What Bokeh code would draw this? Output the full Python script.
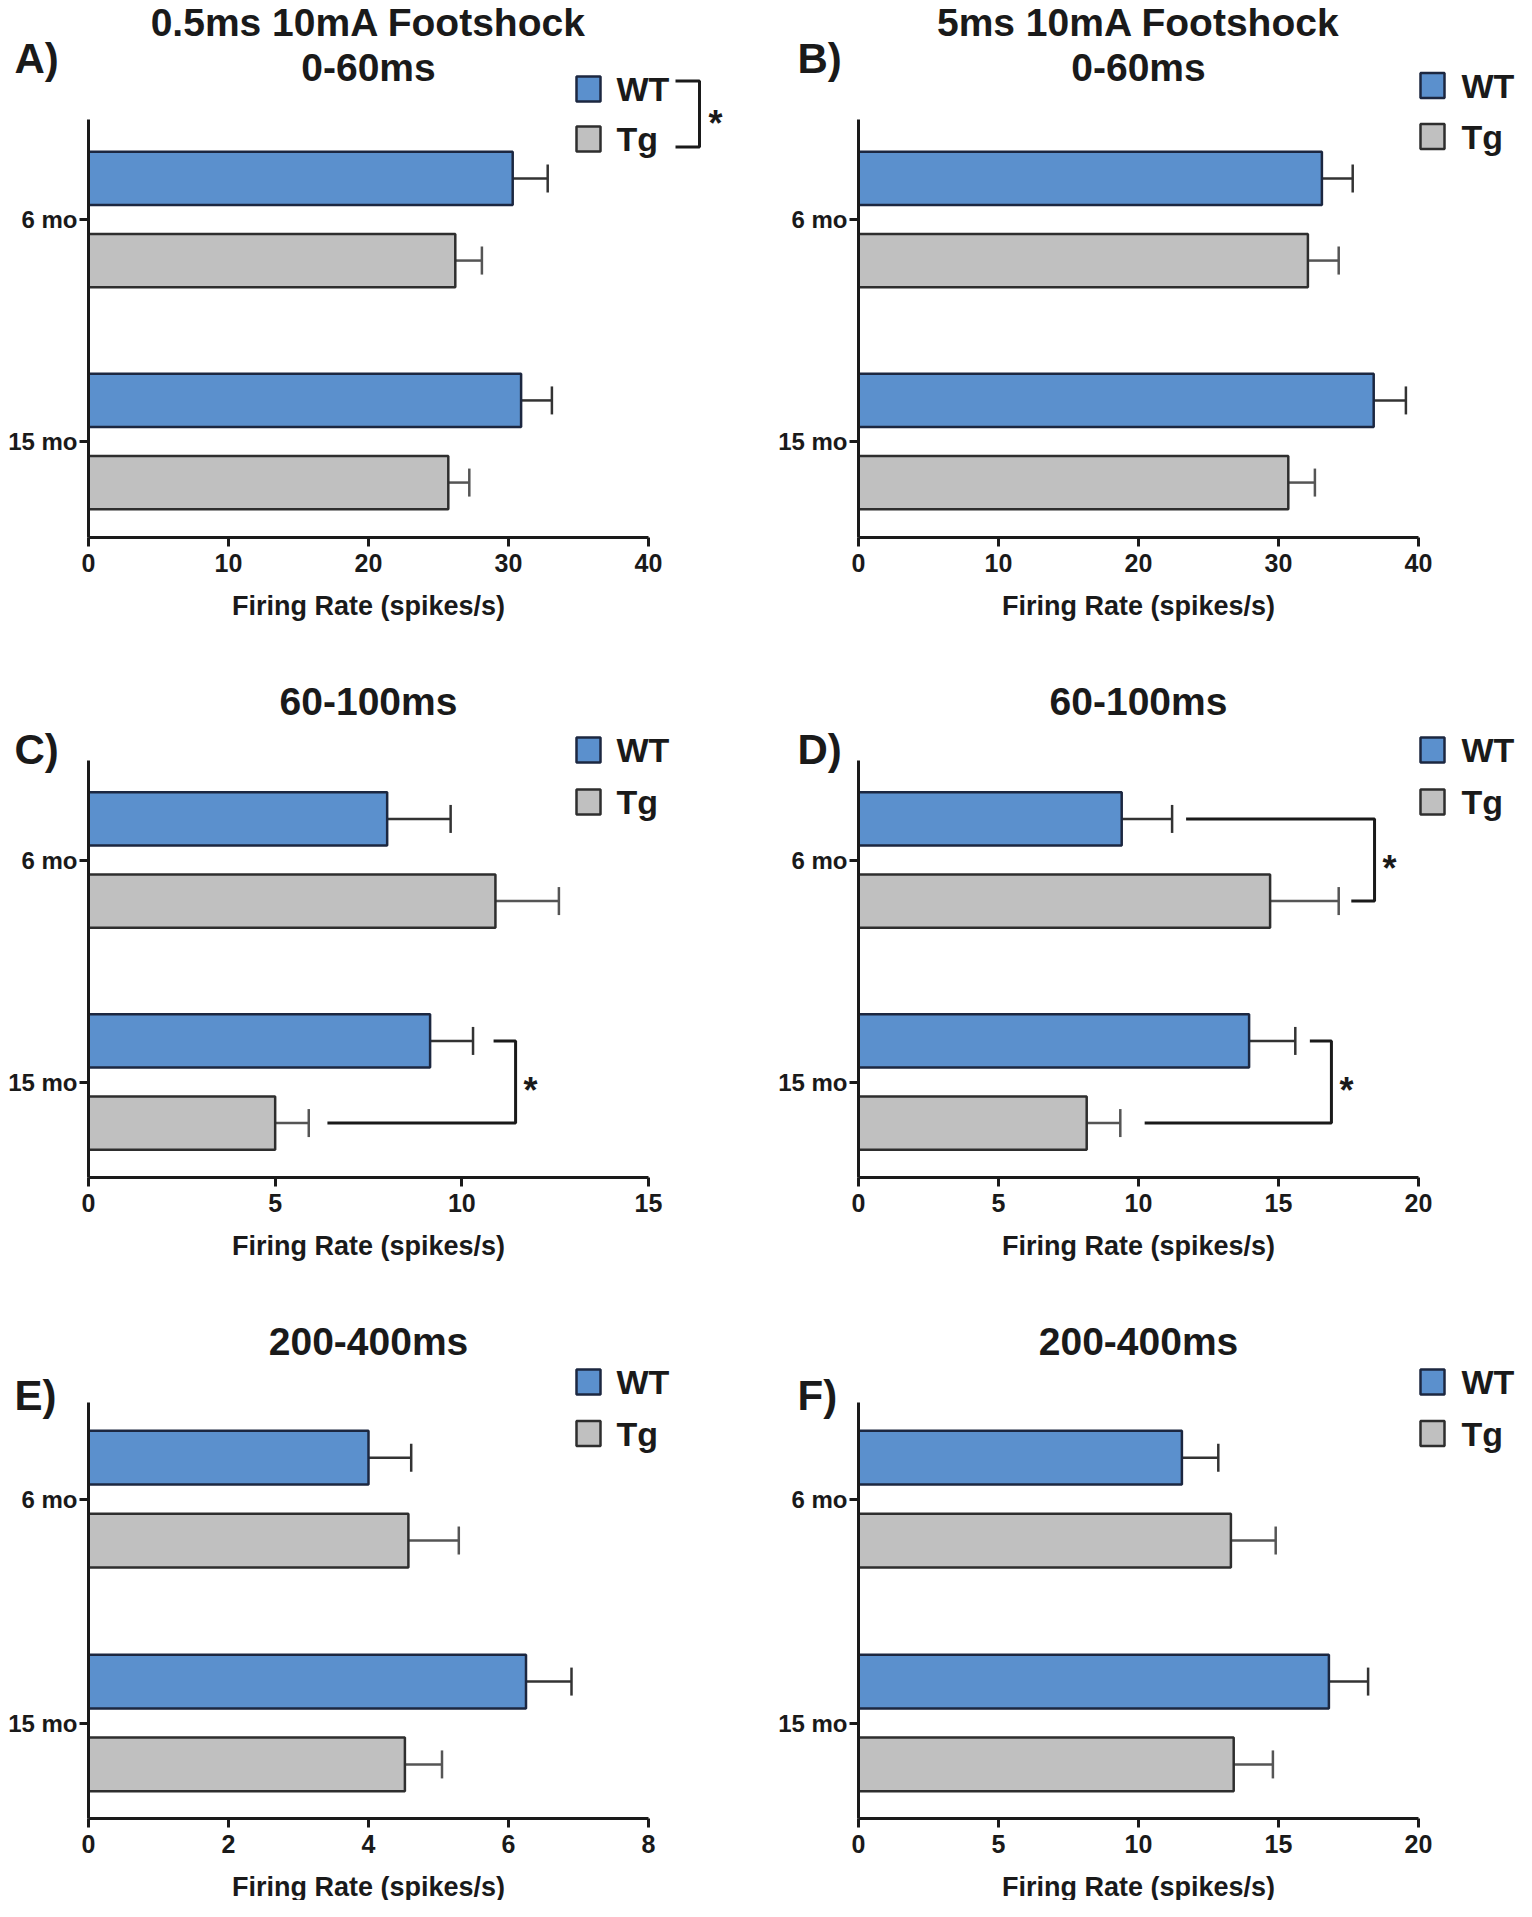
from bokeh.plotting import figure
from bokeh.models import Range1d, FixedTicker, Label, Whisker, TeeHead, ColumnDataSource
from bokeh.layouts import column, row
from bokeh.embed import file_html
from bokeh.resources import INLINE

# ---------------- data ----------------
groups = ["6 mo", "15 mo"]
series = ["WT", "Tg"]

a_wt = [30.3, 30.9]
a_wt_sem = [2.5, 2.2]
a_tg = [26.2, 25.7]
a_tg_sem = [1.9, 1.5]

b_wt = [33.1, 36.8]
b_wt_sem = [2.2, 2.3]
b_tg = [32.1, 30.7]
b_tg_sem = [2.2, 1.9]

c_wt = [8.0, 9.15]
c_wt_sem = [1.7, 1.15]
c_tg = [10.9, 5.0]
c_tg_sem = [1.7, 0.9]

d_wt = [9.4, 13.95]
d_wt_sem = [1.8, 1.65]
d_tg = [14.7, 8.15]
d_tg_sem = [2.45, 1.2]

e_wt = [4.0, 6.25]
e_wt_sem = [0.61, 0.65]
e_tg = [4.57, 4.52]
e_tg_sem = [0.72, 0.53]

f_wt = [11.55, 16.8]
f_wt_sem = [1.3, 1.4]
f_tg = [13.3, 13.4]
f_tg_sem = [1.6, 1.4]

ticks_40 = [0, 10, 20, 30, 40]
ticks_15 = [0, 5, 10, 15]
ticks_20 = [0, 5, 10, 15, 20]
ticks_8 = [0, 2, 4, 6, 8]

# significance brackets: (x start top, x vertical, x start bottom, group index)
c_brackets = [(10.85, 11.44, 6.4, 2)]
d_brackets = [(11.7, 18.43, 17.6, 1), (16.12, 16.89, 10.22, 2)]

# ---------------- style ----------------
FONT = "Liberation Sans"
DARK = "#1a1a1a"
BLUE = "#5b90cd"
BLUE_EDGE = "#1c2740"
GRAY = "#c0c0c0"
GRAY_EDGE = "#2e2e2e"
ERR_WT = "#333333"
ERR_TG = "#555555"
AXIS_PX = 560
OFF = 0.185
BAR_H = 0.24

ROWS = [
    dict(top=8, h=632, fb=545, t6=227, t15=449, axis_top=127),
    dict(top=640, h=640, fb=1185, t6=867.5, t15=1089.5, axis_top=768),
    dict(top=1280, h=628, fb=1826, t6=1506.6, t15=1730.5, axis_top=1409.5),
]
COLS = [
    dict(left=8, w=762, fl=96, letter_x=22, box_x=596, text_x=624),
    dict(left=770, w=754, fl=866, letter_x=805, box_x=1440, text_x=1469),
]


def make_panel(r, c, letter, titles, wt, wt_sem, tg, tg_sem, xmax, xticks,
               legend_y, brackets=(), legend_bracket=False):
    R = ROWS[r]
    C = COLS[c]
    fl = C["fl"]
    fb = R["fb"]
    ppu = AXIS_PX / xmax
    gs = R["t15"] - R["t6"]

    def X(px):
        return (px - fl) / ppu

    def Y(py):
        return 1 + (py - R["t6"]) / gs

    p = figure(width=C["w"], height=R["h"],
               x_range=Range1d(X(C["left"]), X(C["left"] + C["w"])),
               y_range=Range1d(Y(R["top"] + R["h"]), Y(R["top"])),
               min_border=0, min_border_left=0, min_border_right=0,
               min_border_top=0, min_border_bottom=0,
               output_backend="svg", toolbar_location=None, tools="")
    p.outline_line_color = None
    p.xgrid.visible = False
    p.ygrid.visible = False
    p.background_fill_color = "white"
    p.border_fill_color = "white"

    y_wt = [i + 1 - OFF for i in range(len(groups))]
    y_tg = [i + 1 + OFF for i in range(len(groups))]

    p.hbar(y=y_wt, left=0, right=wt, height=BAR_H, fill_color=BLUE,
           line_color=BLUE_EDGE, line_width=2.5)
    p.hbar(y=y_tg, left=0, right=tg, height=BAR_H, fill_color=GRAY,
           line_color=GRAY_EDGE, line_width=2.5)

    for ys, vals, sems, col in ((y_wt, wt, wt_sem, ERR_WT), (y_tg, tg, tg_sem, ERR_TG)):
        src = ColumnDataSource(dict(base=ys, lower=vals,
                                    upper=[v + s for v, s in zip(vals, sems)]))
        w = Whisker(source=src, base="base", lower="lower", upper="upper",
                    dimension="width", line_color=col, line_width=2.5,
                    lower_head=None,
                    upper_head=TeeHead(size=28, line_color=col, line_width=2.5))
        p.add_layout(w)

    # axes (placed at data locations inside the frame)
    for ax in (p.xaxis, p.yaxis):
        ax.axis_line_width = 3
        ax.axis_line_color = DARK
        ax.major_tick_line_width = 3
        ax.major_tick_line_color = DARK
        ax.major_tick_in = 0
        ax.major_tick_out = 9
        ax.minor_tick_line_color = None
        ax.major_label_text_font = FONT
        ax.major_label_text_font_style = "bold"
        ax.major_label_text_color = DARK
    p.xaxis.ticker = FixedTicker(ticks=xticks)
    p.xaxis.bounds = (0, xmax)
    p.xaxis.fixed_location = Y(fb)
    p.xaxis.major_label_text_font_size = "25px"
    p.xaxis.major_label_standoff = 7
    p.yaxis.ticker = FixedTicker(ticks=[1, 2])
    p.yaxis.major_label_overrides = {i + 1: g for i, g in enumerate(groups)}
    p.yaxis.bounds = (Y(R["axis_top"]), Y(fb))
    p.yaxis.fixed_location = 0
    p.yaxis.major_label_text_font_size = "24px"
    p.yaxis.major_label_standoff = 2

    def lab(x, y, text, size, align="left"):
        p.add_layout(Label(x=x, y=y, text=text, text_font=FONT,
                           text_font_size=f"{size}px", text_font_style="bold",
                           text_align=align, text_baseline="middle",
                           text_color=DARK))

    # x axis label centred on the axis
    lab(xmax / 2, Y(fb + 68), "Firing Rate (spikes/s)", 27, "center")
    # titles
    for ty, tt in titles:
        lab(xmax / 2, Y(ty), tt, 39, "center")
    # panel letter
    lab(X(C["letter_x"]), Y(letter[1]), letter[0], 42)

    # legend
    for (ly, name, fc, lc) in ((legend_y[0], series[0], BLUE, BLUE_EDGE),
                               (legend_y[1], series[1], GRAY, GRAY_EDGE)):
        p.rect(x=[X(C["box_x"])], y=[Y(ly)], width=24, height=25,
               width_units="screen", height_units="screen",
               fill_color=fc, line_color=lc, line_width=2.5)
        lab(X(C["text_x"]), Y(ly), name, 34)

    if legend_bracket:
        bx0, bx1 = C["box_x"] + 87, C["box_x"] + 111
        p.line(x=[X(bx0), X(bx1), X(bx1), X(bx0)],
               y=[Y(legend_y[0] - 8), Y(legend_y[0] - 8), Y(legend_y[1] + 8), Y(legend_y[1] + 8)],
               line_color=DARK, line_width=3)
        lab(X(bx1 + 9), Y((legend_y[0] + legend_y[1]) / 2 + 9), "*", 36)

    for (xt, xv, xb, g) in brackets:
        p.line(x=[xt, xv, xv, xb], y=[g - OFF, g - OFF, g + OFF, g + OFF],
               line_color=DARK, line_width=3)
        lab(xv + 8 / ppu, g + 8 / gs, "*", 36)

    return p


pA = make_panel(0, 0, ("A)", 66), [(30, "0.5ms 10mA Footshock"), (75, "0-60ms")],
                a_wt, a_wt_sem, a_tg, a_tg_sem, 40, ticks_40, (96.5, 146.5),
                legend_bracket=True)
pB = make_panel(0, 1, ("B)", 66), [(30, "5ms 10mA Footshock"), (75, "0-60ms")],
                b_wt, b_wt_sem, b_tg, b_tg_sem, 40, ticks_40, (93, 144))
pC = make_panel(1, 0, ("C)", 757), [(709, "60-100ms")],
                c_wt, c_wt_sem, c_tg, c_tg_sem, 15, ticks_15, (757.5, 809.5),
                brackets=c_brackets)
pD = make_panel(1, 1, ("D)", 757), [(709, "60-100ms")],
                d_wt, d_wt_sem, d_tg, d_tg_sem, 20, ticks_20, (757.5, 809.5),
                brackets=d_brackets)
pE = make_panel(2, 0, ("E)", 1403), [(1349, "200-400ms")],
                e_wt, e_wt_sem, e_tg, e_tg_sem, 8, ticks_8, (1389.5, 1441))
pF = make_panel(2, 1, ("F)", 1403), [(1349, "200-400ms")],
                f_wt, f_wt_sem, f_tg, f_tg_sem, 20, ticks_20, (1389.5, 1441))

layout = column(row(pA, pB, spacing=0), row(pC, pD, spacing=0),
                row(pE, pF, spacing=0), spacing=0)

open("out.html", "w").write(file_html(layout, INLINE))
